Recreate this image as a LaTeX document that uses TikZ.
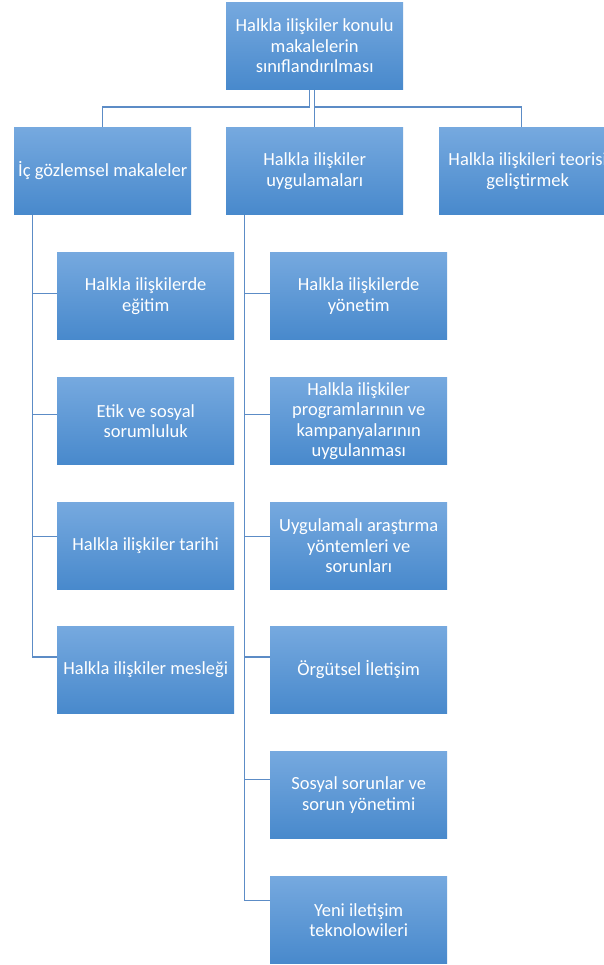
\documentclass[tikz,border=0pt]{standalone}
\usepackage{fontspec}
\setmainfont{Carlito}
\usetikzlibrary{calc}
\definecolor{boxtop}{RGB}{118,169,223}
\definecolor{boxbot}{RGB}{72,137,204}
\definecolor{linecol}{RGB}{92,140,198}
\tikzset{
  box/.style={anchor=north west, minimum width=177pt, minimum height=87.5pt, inner sep=0pt,
    top color=boxtop, bottom color=boxbot, draw=none, text=white, align=center,
    font=\fontsize{18.5}{20.5}\selectfont},
  conn/.style={draw=linecol, line width=1.3pt}
}
\begin{document}
\begin{tikzpicture}[x=1pt,y=-1pt]
\useasboundingbox (0,0) rectangle (604,965);
\clip (0,0) rectangle (604,965);
\fill[white] (0,0) rectangle (604,965);
% boxes
\node[box] (top) at (226,2) {Halkla ilişkiler konulu\\makalelerin\\sınıflandırılması};
\node[box] (la) at (14,127) {İç gözlemsel makaleler};
\node[box] (lb) at (226,127) {Halkla ilişkiler\\uygulamaları};
\node[box] (lc) at (439,127) {Halkla ilişkileri teorisi\\geliştirmek};
\node[box] (a1) at (57,252) {Halkla ilişkilerde\\eğitim};
\node[box] (a2) at (57,377) {Etik ve sosyal\\sorumluluk};
\node[box] (a3) at (57,502) {Halkla ilişkiler tarihi};
\node[box] (a4) at (57,626) {Halkla ilişkiler mesleği};
\node[box] (b1) at (270,252) {Halkla ilişkilerde\\yönetim};
\node[box] (b2) at (270,377) {Halkla ilişkiler\\programlarının ve\\kampanyalarının\\uygulanması};
\node[box] (b3) at (270,502) {Uygulamalı araştırma\\yöntemleri ve\\sorunları};
\node[box] (b4) at (270,626) {Örgütsel İletişim};
\node[box] (b5) at (270,751) {Sosyal sorunlar ve\\sorun yönetimi};
\node[box] (b6) at (270,876) {Yeni iletişim\\teknolowileri};
% top connectors
\draw[conn] ([xshift=-5.5pt]top.south) -- ++(0,17) -| (la.north);
\draw[conn] (top.south) -- (lb.north);
\draw[conn] (top.south) -- ++(0,17) -| ([xshift=-6pt]lc.north);
% left trunk
\coordinate (tl) at ([xshift=18.5pt]la.south west);
\draw[conn] (tl) |- ([yshift=2.5pt]a1.west);
\draw[conn] (tl) |- ([yshift=6.5pt]a2.west);
\draw[conn] (tl) |- ([yshift=9.5pt]a3.west);
\draw[conn] (tl) |- ([yshift=13pt]a4.west);
% middle trunk
\coordinate (tm) at ([xshift=18.5pt]lb.south west);
\draw[conn] (tm) |- ([yshift=2.5pt]b1.west);
\draw[conn] (tm) |- ([yshift=6.5pt]b2.west);
\draw[conn] (tm) |- ([yshift=9.5pt]b3.west);
\draw[conn] (tm) |- ([yshift=13pt]b4.west);
\draw[conn] (tm) |- ([yshift=15.5pt]b5.west);
\draw[conn] (tm) |- ([yshift=19.5pt]b6.west);
\end{tikzpicture}
\end{document}
